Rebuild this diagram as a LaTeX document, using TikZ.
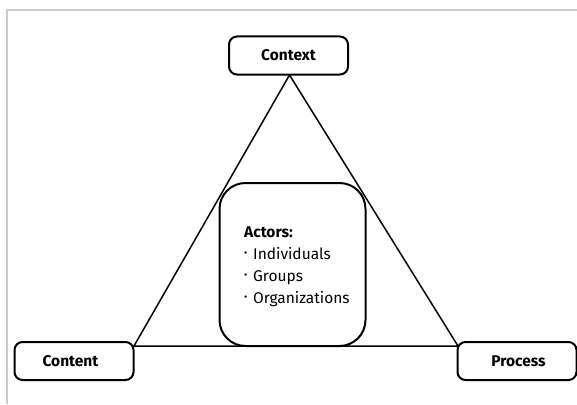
\documentclass[tikz,border=0pt]{standalone}
\usepackage{fontspec}
\setmainfont{Fira Sans}
\newcommand{\bul}{\makebox[9pt][l]{\raisebox{3pt}{\fontsize{10}{10}\selectfont •}}}
\tikzset{
  x=1pt,y=-1pt,
  edge/.style={draw=black,line width=1.5pt},
  corner/.style={draw=black,line width=2pt,fill=white,rounded corners=8pt,minimum width=119pt,minimum height=38pt,inner sep=0pt,font=\fontsize{15.5}{18}\selectfont\bfseries},
  actors/.style={draw=black,line width=2pt,fill=white,rounded corners=26pt,minimum width=146pt,minimum height=163pt,inner sep=0pt},
  list/.style={inner sep=0pt,align=left,font=\fontsize{15.5}{21.9}\selectfont},
}
\begin{document}
\begin{tikzpicture}
\useasboundingbox (0,0) rectangle (577,404);
\draw[draw=black!20,line width=1.5pt] (7,404) -- (7,10) -- (577,10);
\coordinate (apex) at (289.5,75);
\coordinate (left) at (134,346);
\coordinate (right) at (458,346);
\draw[edge] (apex) -- (left) -- (right) -- cycle;
\node[actors] (actor) at (292.5,264.5) {};
\node[corner] (context) at (288.5,55.5) {Context};
\node[corner] (content) at (74,361) {Content\hspace*{7pt}};
\node[corner] (process) at (517,361) {\hspace*{3pt}Process};
\node[list,anchor=north west] (actortext) at (244,226.5) {\textbf{Actors:}\\\bul Individuals\\\bul Groups\\\bul Organizations};
\end{tikzpicture}
\end{document}
